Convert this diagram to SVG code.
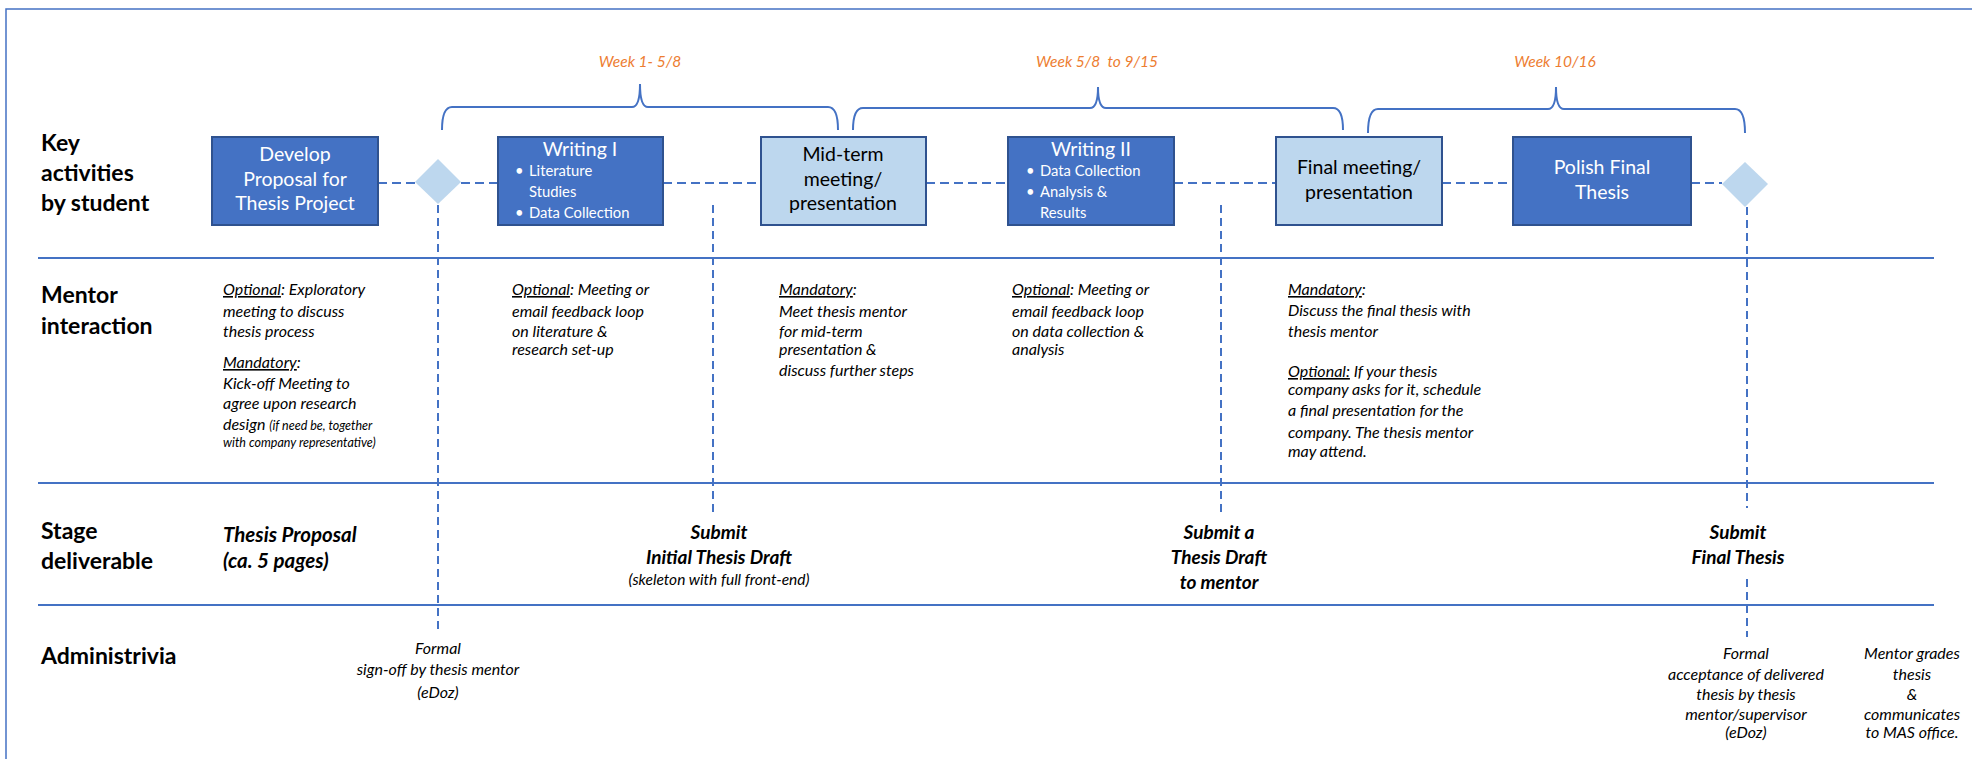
<svg xmlns="http://www.w3.org/2000/svg" width="1972" height="759" viewBox="0 0 1972 759">
<style>
.frame{fill:none;stroke:#4472C4;stroke-width:1.5}
.sep{stroke:#4472C4;stroke-width:2}
.brace{fill:none;stroke:#4472C4;stroke-width:2}
.dash{stroke:#4472C4;stroke-width:2;stroke-dasharray:9 5;fill:none}
.vdash{stroke:#4472C4;stroke-width:2;stroke-dasharray:8 5;fill:none}
.dark{fill:#4472C4;stroke:#2F528F;stroke-width:2}
.light{fill:#BDD7EE;stroke:#2F528F;stroke-width:2}
.dia{fill:#BDD7EE}
text{font-family:Lato,"Liberation Sans",sans-serif}
.row{font-weight:bold;font-size:23px;fill:#000}
.week{font-style:italic;font-size:15.5px;fill:#ED7D31}
.bt{font-size:19.5px;fill:#fff;text-anchor:middle}
.btk{font-size:19.5px;fill:#000;text-anchor:middle}
.bl{font-size:14.8px;fill:#fff}
.it{font-style:italic;font-size:16px;fill:#000}
.sm{font-size:12.5px}
.del{font-style:italic;font-weight:bold;font-size:19px;fill:#000}
.big{font-size:20.5px}
.mid{text-anchor:middle}
.small{font-style:italic;font-size:15.5px;fill:#000}
.u{text-decoration:underline}
</style>
<rect class="frame" x="6" y="9" width="1980" height="770"/>
<g id="separators">
<line class="sep" x1="38" y1="258" x2="1934" y2="258"/>
<line class="sep" x1="38" y1="483" x2="1934" y2="483"/>
<line class="sep" x1="38" y1="605" x2="1934" y2="605"/>
</g>
<g id="row-labels">
<text class="row" x="41" y="151">Key</text>
<text class="row" x="41" y="181">activities</text>
<text class="row" x="41" y="211">by student</text>
<text class="row" x="41" y="303">Mentor</text>
<text class="row" x="41" y="334">interaction</text>
<text class="row" x="41" y="539">Stage</text>
<text class="row" x="41" y="569">deliverable</text>
<text class="row" x="41" y="664">Administrivia</text>
</g>
<g id="braces">
<path class="brace" d="M442,130 Q442,107 452,107 L632,107 Q640,107 640,84 Q640,107 648,107 L828,107 Q838,107 838,130"/>
<path class="brace" d="M853,130 Q853,108 863,108 L1090,108 Q1098,108 1098,87 Q1098,108 1106,108 L1333,108 Q1343,108 1343,130"/>
<path class="brace" d="M1368,133 Q1368,109 1378,109 L1548,109 Q1556,109 1556,87 Q1556,109 1564,109 L1735,109 Q1745,109 1745,133"/>
<text class="week mid" x="640" y="67">Week 1- 5/8</text>
<text class="week mid" x="1097" y="67">Week 5/8&#160; to 9/15</text>
<text class="week mid" x="1555" y="67">Week 10/16</text>
</g>
<g id="connectors">
<line class="dash" x1="378" y1="183" x2="415" y2="183"/>
<line class="dash" x1="461" y1="183" x2="498" y2="183"/>
<line class="dash" x1="663" y1="183" x2="761" y2="183"/>
<line class="dash" x1="926" y1="183" x2="1008" y2="183"/>
<line class="dash" x1="1174" y1="183" x2="1276" y2="183"/>
<line class="dash" x1="1442" y1="183" x2="1513" y2="183"/>
<line class="dash" x1="1691" y1="183" x2="1722" y2="183"/>
<line class="vdash" x1="438" y1="205" x2="438" y2="632"/>
<line class="vdash" x1="713" y1="205" x2="713" y2="513"/>
<line class="vdash" x1="1221" y1="205" x2="1221" y2="513"/>
<line class="vdash" x1="1747" y1="207" x2="1747" y2="508"/>
<line class="vdash" x1="1747" y1="579" x2="1747" y2="637"/>
</g>
<g id="develop">
<rect class="dark" x="212" y="137" width="166" height="88"/>
<text class="bt" x="295" y="161">Develop</text>
<text class="bt" x="295" y="186">Proposal for</text>
<text class="bt" x="295" y="210">Thesis Project</text>
</g>
<g id="milestone1">
<polygon class="dia" points="438,159 461,182 438,204 415,182"/>
</g>
<g id="writing1">
<rect class="dark" x="498" y="137" width="165" height="88"/>
<text class="bt" x="580" y="156">Writing I</text>
<text class="bl" x="515" y="176">•</text>
<text class="bl" x="529" y="176">Literature</text>
<text class="bl" x="529" y="197">Studies</text>
<text class="bl" x="515" y="218">•</text>
<text class="bl" x="529" y="218">Data Collection</text>
</g>
<g id="midterm">
<rect class="light" x="761" y="137" width="165" height="88"/>
<text class="btk" x="843" y="161">Mid-term</text>
<text class="btk" x="843" y="186">meeting/</text>
<text class="btk" x="843" y="210">presentation</text>
</g>
<g id="writing2">
<rect class="dark" x="1008" y="137" width="166" height="88"/>
<text class="bt" x="1091" y="156">Writing II</text>
<text class="bl" x="1026" y="176">•</text>
<text class="bl" x="1040" y="176">Data Collection</text>
<text class="bl" x="1026" y="197">•</text>
<text class="bl" x="1040" y="197">Analysis &amp;</text>
<text class="bl" x="1040" y="218">Results</text>
</g>
<g id="finalmeeting">
<rect class="light" x="1276" y="137" width="166" height="88"/>
<text class="btk" x="1359" y="174">Final meeting/</text>
<text class="btk" x="1359" y="199">presentation</text>
</g>
<g id="polish">
<rect class="dark" x="1513" y="137" width="178" height="88"/>
<text class="bt" x="1602" y="174">Polish Final</text>
<text class="bt" x="1602" y="199">Thesis</text>
</g>
<g id="milestone2">
<polygon class="dia" points="1745,162 1768,184 1745,207 1722,184"/>
</g>
<g id="mentor-texts">
<text class="it" x="223" y="295"><tspan class="u">Optional</tspan>: Exploratory</text>
<text class="it" x="223" y="317">meeting to discuss</text>
<text class="it" x="223" y="337">thesis process</text>
<text class="it" x="223" y="368"><tspan class="u">Mandatory</tspan>:</text>
<text class="it" x="223" y="389">Kick-off Meeting to</text>
<text class="it" x="223" y="409">agree upon research</text>
<text class="it" x="223" y="430">design <tspan class="sm">(if need be, together</tspan></text>
<text class="it sm" x="223" y="447">with company representative)</text>

<text class="it" x="512" y="295"><tspan class="u">Optional</tspan>: Meeting or</text>
<text class="it" x="512" y="317">email feedback loop</text>
<text class="it" x="512" y="337">on literature &amp;</text>
<text class="it" x="512" y="355">research set-up</text>

<text class="it" x="779" y="295"><tspan class="u">Mandatory</tspan>:</text>
<text class="it" x="779" y="317">Meet thesis mentor</text>
<text class="it" x="779" y="337">for mid-term</text>
<text class="it" x="779" y="355">presentation &amp;</text>
<text class="it" x="779" y="376">discuss further steps</text>

<text class="it" x="1012" y="295"><tspan class="u">Optional</tspan>: Meeting or</text>
<text class="it" x="1012" y="317">email feedback loop</text>
<text class="it" x="1012" y="337">on data collection &amp;</text>
<text class="it" x="1012" y="355">analysis</text>

<text class="it" x="1288" y="295"><tspan class="u">Mandatory</tspan>:</text>
<text class="it" x="1288" y="316">Discuss the final thesis with</text>
<text class="it" x="1288" y="337">thesis mentor</text>
<text class="it" x="1288" y="377"><tspan class="u">Optional:</tspan> If your thesis</text>
<text class="it" x="1288" y="395">company asks for it, schedule</text>
<text class="it" x="1288" y="416">a final presentation for the</text>
<text class="it" x="1288" y="438">company. The thesis mentor</text>
<text class="it" x="1288" y="457">may attend.</text>
</g>
<g id="deliverables">
<text class="del big" x="223" y="542">Thesis Proposal</text>
<text class="del big" x="223" y="568">(ca. 5 pages)</text>
<text class="del mid" x="719" y="539">Submit</text>
<text class="del mid" x="719" y="564">Initial Thesis Draft</text>
<text class="small mid" x="719" y="585">(skeleton with full front-end)</text>
<text class="del mid" x="1219" y="539">Submit a</text>
<text class="del mid" x="1219" y="564">Thesis Draft</text>
<text class="del mid" x="1219" y="589">to mentor</text>
<text class="del mid" x="1738" y="539">Submit</text>
<text class="del mid" x="1738" y="564">Final Thesis</text>
</g>
<g id="admin">
<text class="it mid" x="438" y="654">Formal</text>
<text class="it mid" x="438" y="675">sign-off by thesis mentor</text>
<text class="it mid" x="438" y="698">(eDoz)</text>
<text class="it mid" x="1746" y="659">Formal</text>
<text class="it mid" x="1746" y="680">acceptance of delivered</text>
<text class="it mid" x="1746" y="700">thesis by thesis</text>
<text class="it mid" x="1746" y="720">mentor/supervisor</text>
<text class="it mid" x="1746" y="738">(eDoz)</text>
<text class="it mid" x="1912" y="659">Mentor grades</text>
<text class="it mid" x="1912" y="680">thesis</text>
<text class="it mid" x="1912" y="700">&amp;</text>
<text class="it mid" x="1912" y="720">communicates</text>
<text class="it mid" x="1912" y="738">to MAS office.</text>
</g>
</svg>
